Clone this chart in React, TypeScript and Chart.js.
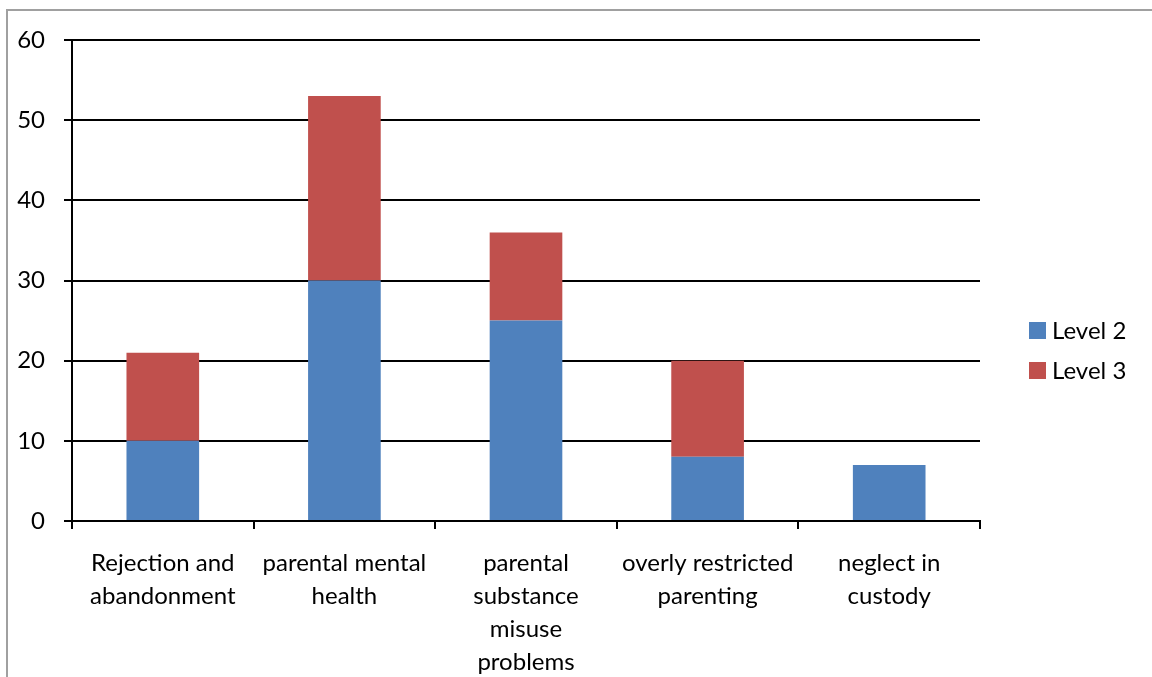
import React, { useEffect, useRef } from "react";
import { Chart, registerables } from "chart.js";

Chart.register(...registerables);

const categories: string[][] = [
  ["Rejection and", "abandonment"],
  ["parental mental", "health"],
  ["parental", "substance", "misuse", "problems"],
  ["overly restricted", "parenting"],
  ["neglect in", "custody"],
];
const level2Values = [10, 30, 25, 8, 7];
const level3Values = [11, 23, 11, 12, 0];
const seriesNames = ["Level 2", "Level 3"];
const seriesColors = ["#4F81BD", "#C0504D"];
const yTicks = [0, 10, 20, 30, 40, 50, 60];

const FONT = "Lato, 'Open Sans', sans-serif";

const legendPlugin = {
  id: "sideLegend",
  afterDraw(chart: any) {
    const ctx = chart.ctx;
    ctx.save();
    ctx.font = `24px ${FONT}`;
    ctx.textBaseline = "middle";
    ctx.textAlign = "left";
    chart.data.datasets.forEach((ds: any, i: number) => {
      const y = 322 + i * 40;
      ctx.fillStyle = ds.backgroundColor;
      ctx.fillRect(1029, y, 17, 17);
      ctx.fillStyle = "#000";
      ctx.fillText(ds.label, 1052, y + 9);
    });
    ctx.restore();
  },
};

export default function App() {
  const ref = useRef<HTMLCanvasElement>(null);
  useEffect(() => {
    if (!ref.current) return;
    const chart = new Chart(ref.current, {
      type: "bar",
      data: {
        labels: categories,
        datasets: [
          { label: seriesNames[0], data: level2Values, backgroundColor: seriesColors[0] },
          { label: seriesNames[1], data: level3Values, backgroundColor: seriesColors[1] },
        ],
      },
      options: {
        animation: false,
        responsive: false,
        layout: { padding: { left: 0, right: 172, top: 40, bottom: 0 } },
        plugins: { legend: { display: false }, tooltip: { enabled: false } },
        datasets: { bar: { barPercentage: 0.8, categoryPercentage: 0.5 } } as any,
        scales: {
          x: {
            stacked: true,
            grid: {
              offset: true,
              drawOnChartArea: false,
              drawTicks: true,
              tickLength: 8,
              color: "#000",
              lineWidth: 2,
            },
            border: { display: true, color: "#000", width: 2 },
            ticks: {
              color: "#000",
              font: { family: FONT, size: 24, lineHeight: 1.375 },
              padding: 18,
              maxRotation: 0,
              autoSkip: false,
            },
            afterFit: (s: any) => {
              s.height = 156;
            },
          },
          y: {
            stacked: true,
            min: 0,
            max: 60,
            afterBuildTicks: (s: any) => {
              s.ticks = yTicks.map((v) => ({ value: v }));
            },
            grid: { color: "#000", lineWidth: 2, tickLength: 8, drawTicks: true },
            border: { display: true, color: "#000", width: 2 },
            ticks: {
              color: "#000",
              font: { family: FONT, size: 24 },
              padding: 19,
            },
            afterFit: (s: any) => {
              s.width = 72;
            },
          },
        },
      },
      plugins: [legendPlugin],
    });
    return () => chart.destroy();
  }, []);

  return (
    <div
      style={{
        position: "fixed",
        left: 0,
        top: 0,
        width: 1152,
        height: 677,
        overflow: "hidden",
        background: "#fff",
      }}
    >
      <div
        style={{
          position: "absolute",
          left: 6,
          top: 9,
          width: 1300,
          height: 800,
          borderTop: "2px solid #a0a0a0",
          borderLeft: "2px solid #a0a0a0",
        }}
      />
      <canvas
        ref={ref}
        width={1152}
        height={677}
        style={{ position: "absolute", left: 0, top: 0, width: 1152, height: 677 }}
      />
    </div>
  );
}
